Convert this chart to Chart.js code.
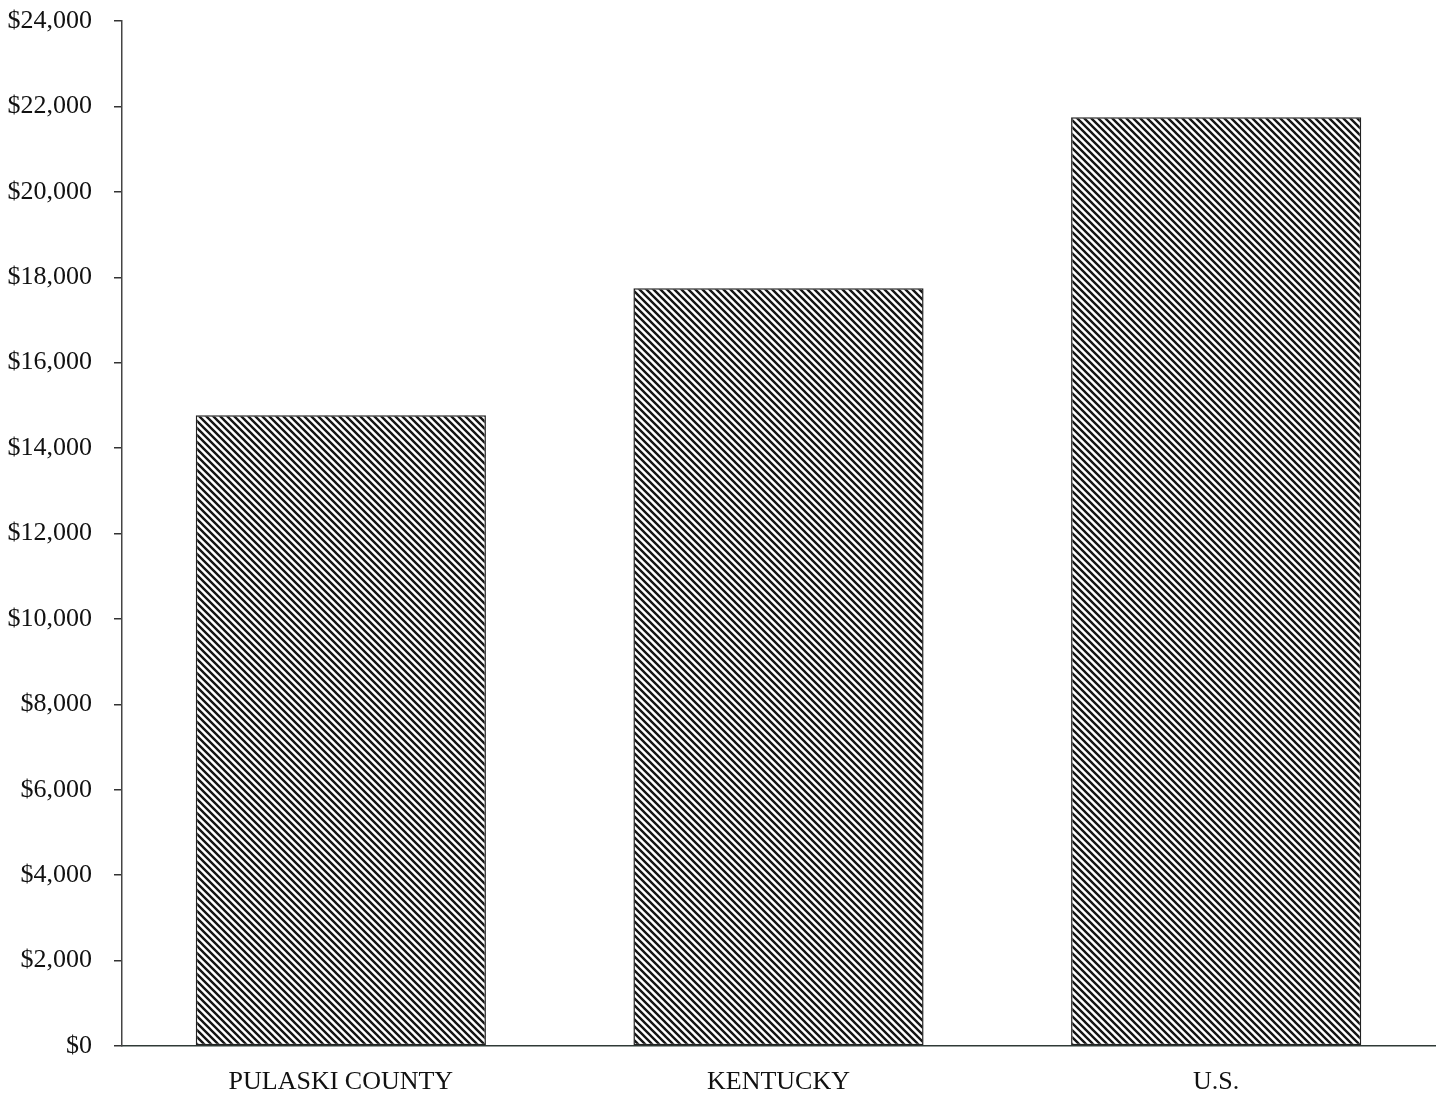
<!DOCTYPE html>
<html>
<head>
<meta charset="utf-8">
<script src="https://cdn.jsdelivr.net/npm/chart.js@4"></script>
<style>
  html, body { margin: 0; padding: 0; background: #ffffff; }
  #wrap { width: 1441px; height: 1098px; position: relative; }
</style>
</head>
<body>
<div id="wrap"><canvas id="c" width="1441" height="1098"></canvas></div>
<script>
const categories = ["PULASKI COUNTY", "KENTUCKY", "U.S."];
const values = [14770, 17740, 21745];
const yTickMin = 0;
const yTickMax = 24000;
const yTickStep = 2000;

function makeHatch() {
  const s = 7;
  const t = document.createElement('canvas');
  t.width = s; t.height = s;
  const g = t.getContext('2d');
  g.fillStyle = '#ffffff';
  g.fillRect(0, 0, s, s);
  g.strokeStyle = '#151515';
  g.lineWidth = 2.4;
  g.beginPath();
  for (let k = -1; k <= 1; k++) {
    g.moveTo(k * s - 1, -1);
    g.lineTo(k * s + s + 1, s + 1);
  }
  g.stroke();
  const ctx = document.getElementById('c').getContext('2d');
  return ctx.createPattern(t, 'repeat');
}

const hatch = makeHatch();
const serif = '"Liberation Serif", "Times New Roman", serif';

new Chart(document.getElementById('c'), {
  type: 'bar',
  data: {
    labels: categories,
    datasets: [{
      data: values,
      backgroundColor: hatch,
      borderColor: '#222222',
      borderWidth: 1.5,
      borderSkipped: false,
      barPercentage: 0.663,
      categoryPercentage: 1.0
    }]
  },
  options: {
    responsive: false,
    animation: false,
    devicePixelRatio: 1,
    layout: { padding: { top: 21, right: 6, bottom: 0, left: 0 } },
    plugins: { legend: { display: false }, tooltip: { enabled: false } },
    scales: {
      x: {
        afterFit: (scale) => { scale.height = 52; scale.paddingLeft = 0; scale.paddingRight = 0; },
        grid: { display: false, drawTicks: false },
        border: { display: true, color: '#2f3a36', width: 1.5 },
        ticks: {
          color: '#111111',
          padding: 21,
          font: { family: serif, size: 26 }
        }
      },
      y: {
        min: yTickMin,
        max: yTickMax,
        afterFit: (scale) => { scale.width = 122; scale.paddingTop = 0; scale.paddingBottom = 0; },
        grid: { drawOnChartArea: false, drawTicks: true, tickLength: 8, color: '#333333', lineWidth: 1.5 },
        border: { display: true, color: '#444444', width: 1.5 },
        ticks: {
          stepSize: yTickStep,
          color: '#111111',
          padding: 22,
          font: { family: serif, size: 26 },
          callback: (v) => '$' + v.toLocaleString('en-US')
        }
      }
    }
  }
});
</script>
</body>
</html>
